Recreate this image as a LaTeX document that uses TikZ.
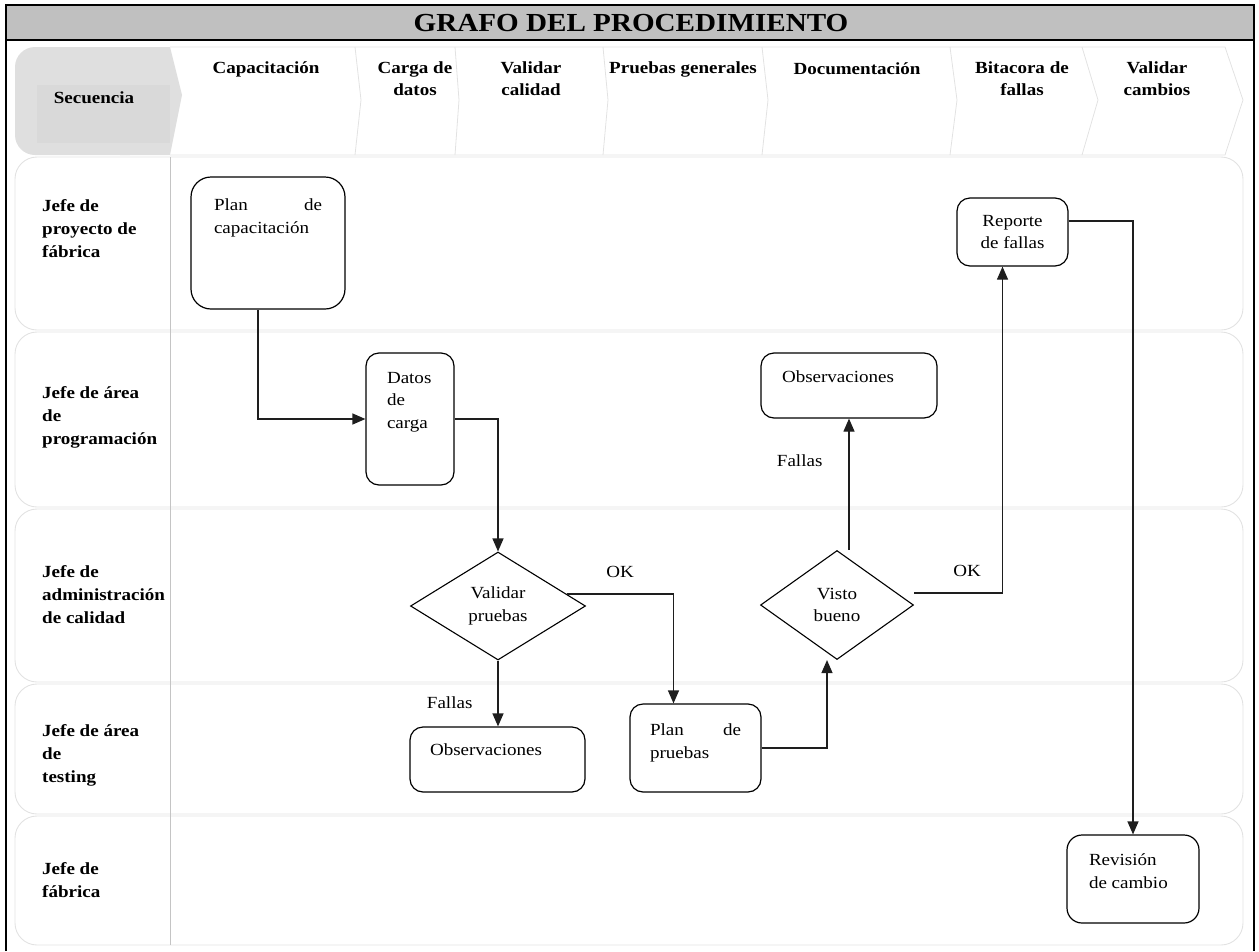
\documentclass[tikz,border=0pt]{standalone}
\usepackage{fontspec}
\setmainfont{Liberation Serif}[FakeStretch=1.12]
\usetikzlibrary{shapes.geometric,arrows.meta,calc}
\definecolor{titlegray}{HTML}{C0C0C0}
\definecolor{seqgray}{HTML}{DFDFDF}
\definecolor{seqinner}{HTML}{D9D9D9}
\definecolor{lanegray}{HTML}{E2E2E2}
\definecolor{sepgray}{HTML}{C4C4C4}
\definecolor{lineblack}{HTML}{1E1E1E}
\newcommand{\topparbox}[3]{\parbox[c][#1][t]{#2}{\raggedright #3}}
\begin{document}
\begin{tikzpicture}[x=1pt,y=-1pt,
  every node/.style={font=\fontsize{17}{22.5}\selectfont},
  lanelabel/.style={font=\fontsize{17}{23}\selectfont\bfseries, align=left, anchor=west, inner sep=0pt},
  headlabel/.style={font=\fontsize{17}{22}\selectfont\bfseries, align=center, inner sep=0pt},
  procbox/.style={draw=black, line width=1.2pt, fill=white, rounded corners=13pt, inner ysep=0pt},
  decision/.style={diamond, draw=black, line width=1.1pt, fill=white, inner sep=0pt, aspect=1.6, align=center},
  flow/.style={draw=lineblack, line width=1.2pt, -{Triangle[length=13pt,width=11pt]}},
  lane/.style={draw=lanegray, line width=0.9pt, rounded corners=22pt},
  lbl/.style={inner sep=0pt}
]
\useasboundingbox (0,0) rectangle (1259,951);

% title band and frame
\fill[titlegray] (6,5) rectangle (1254,40);
\draw[line width=1.5pt] (6,40) -- (1254,40);
\draw[line width=2pt] (6,951) -- (6,5) -- (1254,5) -- (1254,951);
\node[font=\fontsize{26}{30}\selectfont\bfseries, inner sep=0pt] (title) at (631,23.5) {GRAFO DEL PROCEDIMIENTO};

% header: Secuencia chevron
\fill[seqgray, rounded corners=20pt] (15,47) rectangle (150,155);
\fill[seqgray] (120,47) -- (170,47) -- (182,95) -- (170,155) -- (120,155) -- cycle;
\fill[seqinner] (37,85) rectangle (170,143);

% header: other chevrons
\draw[lanegray, line width=0.8pt] (170,47) -- (1225,47) -- (1243,100) -- (1225,155) -- (170,155);
\foreach \b/\d in {355/6, 455/4, 603/5, 762/6, 950/7, 1082/16}
  \draw[lanegray, line width=0.8pt] (\b,47) -- (\b+\d,100) -- (\b,155);

% lanes
\foreach \a/\b in {157/330, 332/507, 509/682, 684/814, 816/945}
  \draw[lane] (15,\a) rectangle (1243,\b);
\draw[sepgray, line width=1pt] (170,157) -- (170,945);

% header labels
\node[headlabel] (hseq) at (94,98) {Secuencia};
\node[headlabel] (hcap) at (266,69) {Capacitación};
\node[headlabel] (hcar) at (415,79) {Carga de\\datos};
\node[headlabel] (hval) at (531,79) {Validar\\calidad};
\node[headlabel] (hpru) at (683,69) {Pruebas generales};
\node[headlabel] (hdoc) at (857,69) {Documentación};
\node[headlabel] (hbit) at (1022,79) {Bitacora de\\fallas};
\node[headlabel] (hvc) at (1157,79) {Validar\\cambios};

% lane labels
\node[lanelabel] (l1) at (42,229) {Jefe de\\proyecto de\\fábrica};
\node[lanelabel] (l2) at (42,417) {Jefe de área\\de\\programación};
\node[lanelabel] (l3) at (42,595) {Jefe de\\administración\\de calidad};
\node[lanelabel] (l4) at (42,755) {Jefe de área\\de\\testing};
\node[lanelabel] (l5) at (42,880) {Jefe de\\fábrica};

% process nodes
\node[procbox, rounded corners=20pt, minimum width=154pt, minimum height=132pt, inner xsep=23pt] (pc) at (268,243)
  {\topparbox{88pt}{108pt}{Plan\hfill de\\capacitación}};
\node[procbox, minimum width=88pt, minimum height=132pt, inner xsep=21pt] (dc) at (410,419)
  {\topparbox{94pt}{46pt}{Datos\\de\\carga}};
\node[decision, minimum width=175pt, minimum height=108pt] (vp) at (498,606) {Validar\\pruebas};
\node[procbox, minimum width=175pt, minimum height=65pt, inner xsep=20pt] (ob1) at (497.5,759.5)
  {\topparbox{31pt}{135pt}{Observaciones}};
\node[procbox, minimum width=131pt, minimum height=88pt, inner xsep=20pt] (pp) at (695.5,748)
  {\topparbox{48pt}{91pt}{Plan\hfill de\\pruebas}};
\node[decision, minimum width=153pt, minimum height=109pt] (vb) at (837,605) {Visto\\bueno};
\node[procbox, minimum width=176pt, minimum height=65pt, inner xsep=21pt] (ob2) at (849,385.5)
  {\topparbox{30pt}{134pt}{Observaciones}};
\node[procbox, minimum width=111pt, minimum height=68pt, align=center, inner xsep=6pt] (rf) at (1012.5,232)
  {Reporte\\de fallas};
\node[procbox, rounded corners=15pt, minimum width=132pt, minimum height=88pt, inner xsep=22pt] (rc) at (1133,879)
  {\topparbox{50pt}{88pt}{Revisión\\de cambio}};

% connectors
\draw[flow] ([xshift=-10pt]pc.south) |- (dc.west);
\draw[flow] (dc.east) -| (vp.north);
\draw[flow] ($(vp.east)!0.22!(vp.north)$) -| ([xshift=-22pt]pp.north)
  node[pos=0.25, above=16pt, lbl] (okone) {OK};
\draw[flow] (vp.south) -- (vp.south |- ob1.north)
  node[pos=0.64, left=25pt, lbl] (failone) {Fallas};
\draw[flow] (pp.east) -| ([xshift=-10pt]vb.south);
\draw[flow] (ob2.south |- vb.north) -- (ob2.south)
  node[pos=0.68, left=26pt, lbl] (failtwo) {Fallas};
\draw[flow] ([yshift=12pt]vb.east) -| ([xshift=-10pt]rf.south)
  node[pos=0.3, above=16pt, lbl] (oktwo) {OK};
\draw[flow] ([yshift=11pt]rf.east) -| (rc.north);
\end{tikzpicture}
\end{document}
